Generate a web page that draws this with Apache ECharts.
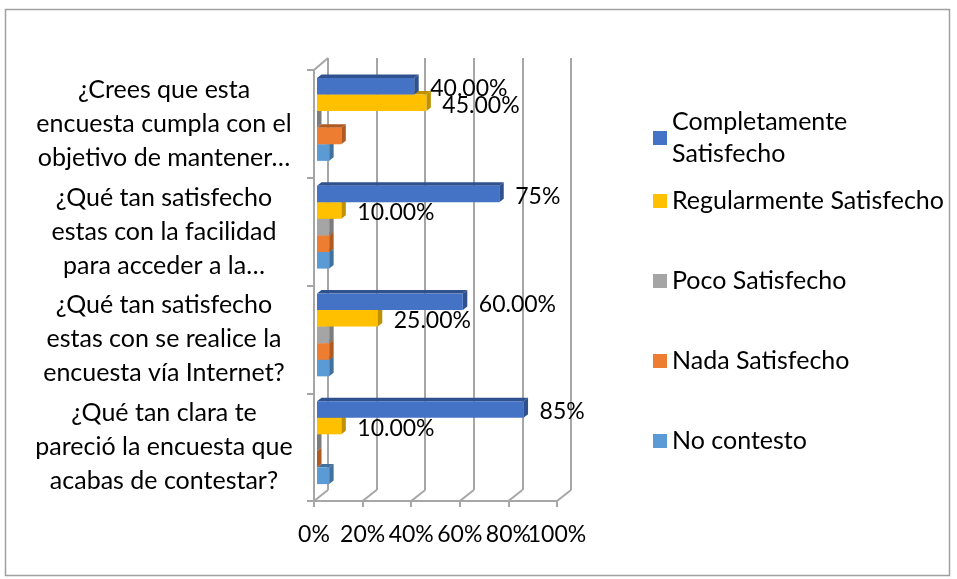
<!DOCTYPE html>
<html>
<head>
<meta charset="utf-8">
<script src="https://cdn.jsdelivr.net/npm/echarts@6/dist/echarts.min.js"></script>
<style>
  html, body { margin: 0; padding: 0; background: #fff; }
  #chart { width: 957px; height: 579px; }
</style>
</head>
<body>
<div id="chart"></div>
<script>
var categories = [
  '¿Crees que esta\nencuesta cumpla con el\nobjetivo de mantener…',
  '¿Qué tan satisfecho\nestas con la facilidad\npara acceder a la…',
  '¿Qué tan satisfecho\nestas con se realice la\nencuesta vía Internet?',
  '¿Qué tan clara te\npareció la encuesta que\nacabas de contestar?'
];
var seriesNames = ['Completamente Satisfecho', 'Regularmente Satisfecho', 'Poco Satisfecho', 'Nada Satisfecho', 'No contesto'];
var completamente = [40, 75, 60, 85];
var regularmente = [45, 10, 25, 10];
var poco = [0, 5, 5, 0];
var nada = [10, 5, 5, 0];
var noContesto = [5, 5, 5, 5];
var completamenteLabels = ['40.00%', '75%', '60.00%', '85%'];
var regularmenteLabels = ['45.00%', '10.00%', '25.00%', '10.00%'];
var xTicks = [0, 20, 40, 60, 80, 100];
var xTickLabels = ['0%', '20%', '40%', '60%', '80%', '100%'];

var front = ['#4472c4', '#ffc000', '#a5a5a5', '#ed7d31', '#5b9bd5'];
var side = ['#2f528f', '#bf9000', '#7c7c7c', '#ae5a21', '#41719c'];
var font = 'Lato';
var gridColor = '#a6a6a6';

// front plane and back wall of the fake 3D box
var fLeft = 314, fTop = 70, fW = 243, fH = 431;
var bLeft = 328, bTop = 58, bW = 243, bH = 432;

function makeRender(slot, labels) {
  return function (params, api) {
    var cat = api.value(0);
    var val = api.value(1);
    var start = api.coord([0, cat]);
    var end = api.coord([val, cat]);
    var band = api.size([0, 1])[1];
    var h = band * 0.154;
    var y0 = start[1] - 2.5 * h - 4.5 + slot * h;
    var x0 = start[0] + 3;
    var x1 = end[0] + 3;
    var dx = 4.5, dy = 3.5;
    var children = [
      {type: 'polygon', shape: {points: [[x0, y0], [x0 + dx, y0 - dy], [x1 + dx, y0 - dy], [x1, y0]]},
        style: {fill: side[slot]}},
      {type: 'polygon', shape: {points: [[x1, y0], [x1 + dx, y0 - dy], [x1 + dx, y0 + h - dy], [x1, y0 + h]]},
        style: {fill: side[slot]}},
      {type: 'rect', shape: {x: x0, y: y0, width: x1 - x0, height: h},
        style: {fill: front[slot]}}
    ];
    if (labels) {
      children.push({
        type: 'text', x: x1 + 16, y: y0 + h / 2 + 2.5, z2: 50,
        style: {text: labels[cat], fill: '#000', fontFamily: font, fontSize: 23,
          align: 'left', verticalAlign: 'middle'}
      });
    }
    return {type: 'group', children: children};
  };
}

function makeSeries(slot, values, labels) {
  return {
    name: seriesNames[slot],
    type: 'custom',
    xAxisIndex: 0,
    yAxisIndex: 0,
    z: 10 - slot,
    clip: false,
    itemStyle: {color: front[slot]},
    encode: {x: 1, y: 0},
    renderItem: makeRender(slot, labels),
    data: values.map(function (v, i) { return [i, v]; })
  };
}

function tickLabel(v) {
  return xTickLabels[xTicks.indexOf(v)] || '';
}

var legendTops = [106, 185, 265, 345, 425];
var legends = seriesNames.map(function (n, i) {
  return {
    data: [n],
    left: 653,
    top: legendTops[i],
    padding: 0,
    orient: 'vertical',
    icon: 'rect',
    itemWidth: 14,
    itemHeight: 14,
    selectedMode: false,
    formatter: function (name) {
      return name === 'Completamente Satisfecho' ? 'Completamente\nSatisfecho' : name;
    },
    textStyle: {fontFamily: font, fontSize: 25, color: '#000', lineHeight: 32}
  };
});

var tickLabelStyle = {fontFamily: font, fontSize: 23, color: '#000', margin: 22,
  showMinLabel: true, showMaxLabel: true, hideOverlap: false};

var chart = echarts.init(document.getElementById('chart'));
var option = {
  backgroundColor: '#fff',
  animation: false,
  legend: legends,
  grid: [
    {left: fLeft, top: fTop, width: fW, height: fH},
    {left: bLeft, top: bTop, width: bW, height: bH}
  ],
  xAxis: [
    {
      type: 'value', gridIndex: 0, min: 0, max: 100, interval: 20, position: 'bottom',
      axisLine: {show: true, onZero: false, lineStyle: {color: gridColor, width: 2}},
      axisTick: {show: true, length: 6, lineStyle: {color: gridColor, width: 2}},
      splitLine: {show: false},
      // every other label here, the rest on the twin axis below, so none get dropped for overlap
      axisLabel: Object.assign({formatter: function (v) { return xTicks.indexOf(v) % 2 === 0 ? tickLabel(v) : ''; }}, tickLabelStyle)
    },
    {
      type: 'value', gridIndex: 1, min: 0, max: 100, interval: 20,
      axisLine: {show: false}, axisTick: {show: false}, axisLabel: {show: false},
      splitLine: {show: true, lineStyle: {color: gridColor, width: 2}}
    },
    {
      type: 'value', gridIndex: 0, min: 0, max: 100, interval: 20, position: 'bottom', offset: 0,
      axisLine: {show: false, onZero: false}, axisTick: {show: false}, splitLine: {show: false},
      axisLabel: Object.assign({formatter: function (v) { return xTicks.indexOf(v) % 2 === 1 ? tickLabel(v) : ''; }}, tickLabelStyle)
    }
  ],
  yAxis: [
    {
      type: 'category', gridIndex: 0, data: categories, inverse: true,
      axisLine: {show: true, lineStyle: {color: gridColor, width: 2}},
      axisTick: {show: true, length: 7, lineStyle: {color: gridColor, width: 2}},
      axisLabel: {fontFamily: font, fontSize: 25, color: '#000', lineHeight: 34,
        align: 'center', margin: 150, interval: 0, hideOverlap: false}
    },
    {type: 'category', gridIndex: 1, data: categories, show: false}
  ],
  series: [
    makeSeries(0, completamente, completamenteLabels),
    makeSeries(1, regularmente, regularmenteLabels),
    makeSeries(2, poco),
    makeSeries(3, nada),
    makeSeries(4, noContesto)
  ]
};
chart.setOption(option);

// floor edges and left wall top edge, joined through both axes
var deco = [{
  type: 'rect', shape: {x: 5.5, y: 9.5, width: 944, height: 566},
  style: {fill: null, stroke: '#a0a0a0', lineWidth: 1.5}, z: 0
}];
xTicks.forEach(function (v) {
  var fx = chart.convertToPixel({xAxisIndex: 0}, v);
  var bx = chart.convertToPixel({xAxisIndex: 1}, v);
  deco.push({type: 'line', z: 1, shape: {x1: fx, y1: fTop + fH, x2: bx, y2: bTop + bH},
    style: {stroke: gridColor, lineWidth: 2}});
});
var f0 = chart.convertToPixel({xAxisIndex: 0}, 0);
var b0 = chart.convertToPixel({xAxisIndex: 1}, 0);
deco.push({type: 'line', z: 1, shape: {x1: f0, y1: fTop, x2: b0, y2: bTop},
  style: {stroke: gridColor, lineWidth: 2}});
chart.setOption({graphic: deco});
</script>
</body>
</html>
